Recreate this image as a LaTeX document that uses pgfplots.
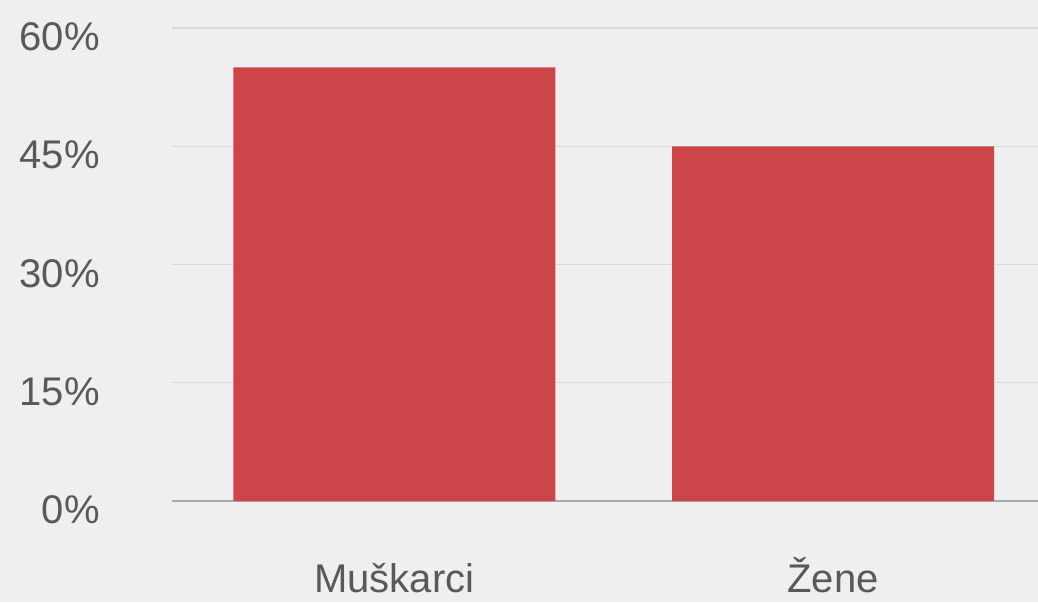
\documentclass[border=0pt]{standalone}
\usepackage{fontspec}
\setmainfont{Liberation Sans}
\usepackage{pgfplots}
\pgfplotsset{compat=1.18}
\definecolor{bgcol}{HTML}{EFEFF2}
\definecolor{barred}{HTML}{CC4548}
\definecolor{txtgray}{HTML}{595959}
\definecolor{gridgray}{HTML}{D9D9DC}
\definecolor{basegray}{HTML}{A8A8A8}

\begin{document}
\begin{tikzpicture}
% page = 1038x602 px at 0.5pt per px
\path[use as bounding box, fill=bgcol] (-86pt,-50.5pt) rectangle (433pt,250.5pt);
\begin{axis}[
    at={(0,0)}, anchor=south west,
    scale only axis,
    width=433pt, height=236.5pt,
    ybar,
    bar width=161pt,
    xmin=-0.507, xmax=1.467,
    ymin=0, ymax=60,
    xtick=data,
    xticklabels={Muškarci,Žene},
    ytick={15,30,45,60},
    extra y ticks={0},
    extra y tick style={grid style={draw=basegray, line width=0.6pt}},
    yticklabel={\pgfmathprintnumber{\tick}\%},
    /pgf/number format/assume math mode=true,
    axis line style={draw=none},
    major tick length=0pt,
    ymajorgrids,
    grid style={draw=gridgray, line width=0.6pt},
    tick label style={font=\fontsize{20}{24}\selectfont, text=txtgray},
    yticklabel style={anchor=east, inner sep=0pt, xshift=-36pt, yshift=-4.5pt},
    xticklabel style={anchor=base, inner sep=0pt, yshift=-45.5pt},
    clip=false,
]
\addplot[fill=barred, draw=none] coordinates {(0,55) (1,45)};
\end{axis}
\end{tikzpicture}
\end{document}
